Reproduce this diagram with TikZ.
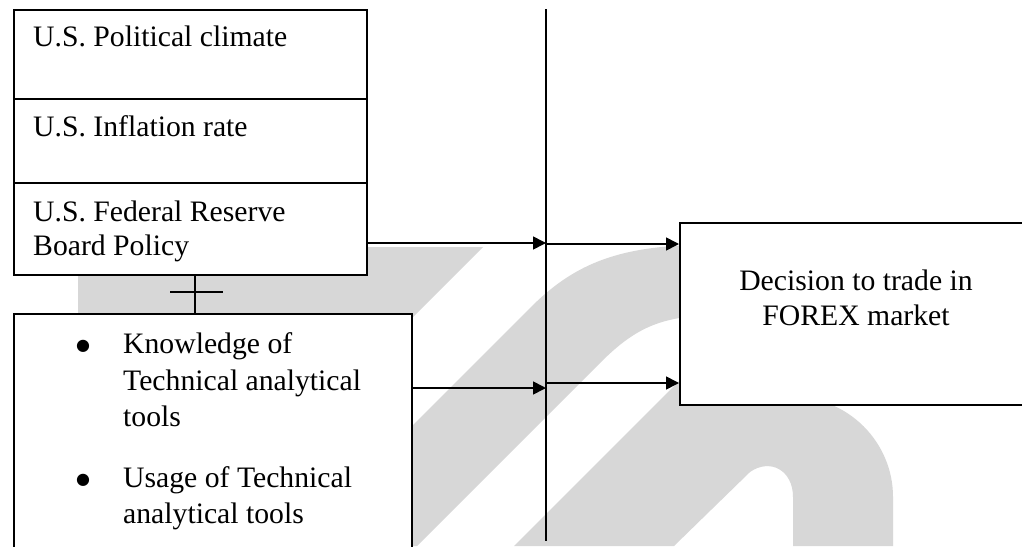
\documentclass[tikz,border=0pt]{standalone}
\usepackage{fontspec}
\setmainfont{Liberation Serif}
\newfontfamily\dvfont{DejaVu Sans}
\usetikzlibrary{arrows.meta}
\definecolor{wm}{RGB}{215,215,215}
\begin{document}
\begin{tikzpicture}[x=1pt,y=-1pt,
  box/.style={draw=black, line width=1.7pt, fill=white, inner sep=0pt},
  wmark/.style={fill=wm, draw=none},
  txt/.style={anchor=base west, inner sep=0pt, font=\fontsize{29.7}{33}\selectfont},
  ctxt/.style={anchor=base, inner sep=0pt, font=\fontsize{29.7}{33}\selectfont},
  bul/.style={anchor=center, inner sep=0pt, font=\dvfont\fontsize{16}{16}\selectfont},
  link/.style={line width=1.7pt},
  arr/.style={line width=1.6pt, -{Triangle[length=13pt,width=13pt]}}]
\useasboundingbox (0,0) rectangle (1022,546);
\clip (0,0) rectangle (1022,546);
\fill[white] (0,0) rectangle (1022,546);
% watermark
\fill[wmark] (78,247) -- (483,247) -- (184,546) -- (78,546) -- cycle;
\fill[wmark] (292,546) -- (530,308) .. controls (572,266) and (615,246) .. (700,245)
  -- (700,316) .. controls (655,318) and (630,333) .. (600,363) -- (417,546) -- cycle;
\fill[wmark] (514,546) -- (690,370) .. controls (720,340) and (760,397) .. (793,397)
  .. controls (848,397) and (893,442) .. (893,497) -- (893,546) -- (793,546) -- (793,497)
  .. controls (793,470) and (770,458) .. (750,472) -- (674,546) -- cycle;
% boxes
\node[box, anchor=north west, minimum width=353pt, minimum height=265pt] (topbox) at (13,9) {};
\node[box, anchor=north west, minimum width=398pt, minimum height=257pt] (lowbox) at (13,313) {};
\node[box, anchor=north west, minimum width=361pt, minimum height=182pt] (decbox) at (679,222) {};
\coordinate (d1) at (13,99);
\coordinate (d2) at (13,183);
\draw[link] (d1) -- (topbox.east |- d1);
\draw[link] (d2) -- (topbox.east |- d2);
% texts
\node[txt] (t1) at (33,46.7) {U.S. Political climate};
\node[txt] (t2) at (33,136.7) {U.S. Inflation rate};
\node[txt] (t3) at (33,221.7) {U.S. Federal Reserve};
\node[txt] (t4) at (33,255) {Board Policy};
\node[bul] (b1) at (83,346) {●};
\node[txt] (k1) at (123,353) {Knowledge of};
\node[txt] (k2) at (123,390) {Technical analytical};
\node[txt] (k3) at (123,426) {tools};
\node[bul] (b2) at (83,480) {●};
\node[txt] (u1) at (123,487) {Usage of Technical};
\node[txt] (u2) at (123,523) {analytical tools};
\node[ctxt] (e1) at (856,290) {Decision to trade in};
\node[ctxt] (e2) at (856,325) {FOREX market};
% cross between the left boxes
\coordinate (cx) at (195,292);
\coordinate (cl) at (170,292);
\coordinate (cr) at (223,292);
\draw[link] (topbox.south -| cx) -- (lowbox.north -| cx);
\draw[link] (cl) -- (cr);
% vertical line
\coordinate (vt) at (546,9);
\coordinate (vb) at (546,541);
\draw[link] (vt) -- (vb);
% arrows
\coordinate (j1) at (546,243);
\coordinate (j1b) at (546,244);
\coordinate (j2) at (546,388);
\coordinate (j2b) at (546,383);
\draw[arr] (topbox.east |- j1) -- (j1);
\draw[arr] (j1b) -- (decbox.west |- j1b);
\draw[arr] (lowbox.east |- j2) -- (j2);
\draw[arr] (j2b) -- (decbox.west |- j2b);
\end{tikzpicture}
\end{document}
